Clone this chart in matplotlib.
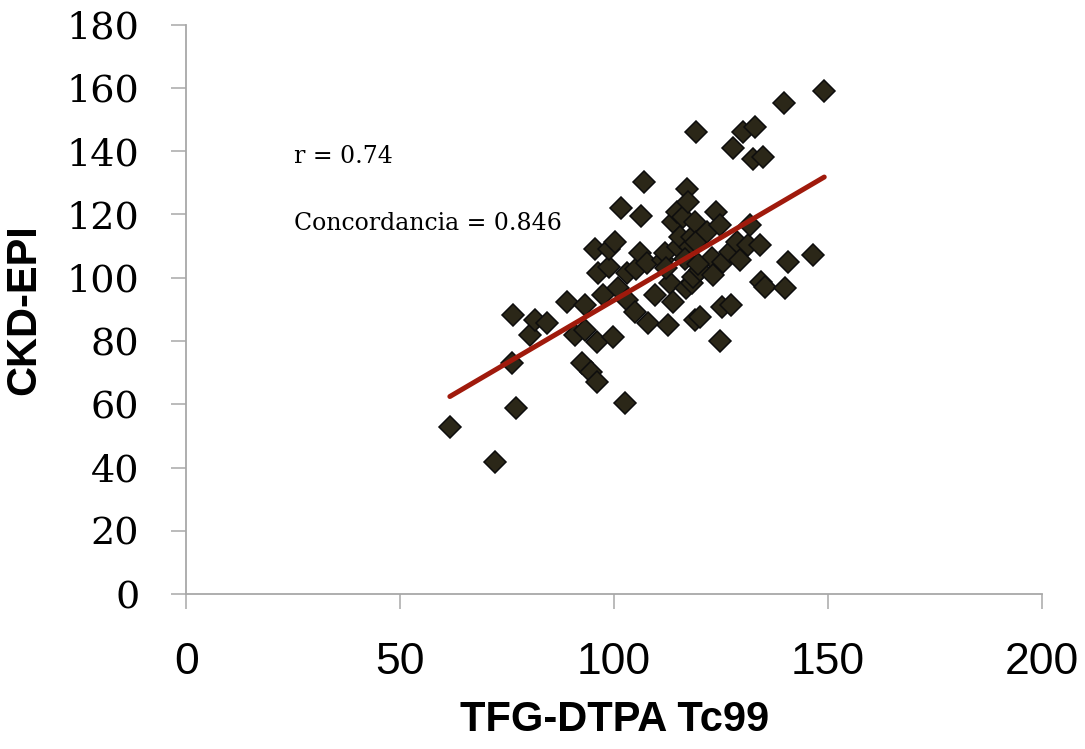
import matplotlib
matplotlib.use("Agg")
import matplotlib.pyplot as plt
import numpy as np

# Data
tfg_dtpa = [61.6, 72.1, 77.0, 76.2, 76.3, 80.3, 81.5, 84.2, 88.9, 90.8,
            92.4, 93.2, 93.2, 94.7, 95.9, 95.9, 95.5, 96.3, 97.4, 98.7,
            98.7, 99.8, 100.2, 100.9, 101.7, 102.5, 102.9, 102.9, 104.8, 105.2,
            106.0, 106.2, 107.0, 107.6, 108.0, 109.5, 111.4, 111.8, 112.6, 113.0,
            113.8, 113.8, 114.6, 115.0, 115.4, 116.1, 116.9, 117.1, 117.2, 117.7,
            118.1, 118.1, 118.5, 118.9, 118.9, 119.2, 119.2, 120.0, 120.0, 121.6,
            122.8, 123.1, 123.8, 124.7, 124.7, 125.1, 125.5, 127.0, 127.4, 127.8,
            128.6, 129.4, 130.1, 131.3, 131.7, 132.5, 132.9, 134.0, 134.4, 134.8,
            135.2, 139.7, 139.9, 140.7, 146.5, 149.1, 112.0, 116.5, 119.5]
ckd_epi = [52.9, 41.8, 58.7, 72.9, 88.2, 81.9, 86.6, 85.6, 92.4, 81.9,
           72.9, 91.4, 83.5, 70.3, 67.0, 79.8, 109.0, 101.4, 94.5, 103.5,
           109.0, 81.3, 111.4, 96.6, 121.9, 60.3, 92.9, 101.4, 89.3, 102.7,
           107.7, 119.6, 130.3, 104.6, 85.6, 94.5, 105.6, 107.7, 85.0, 98.2,
           92.4, 117.7, 120.9, 109.8, 113.0, 119.3, 96.6, 128.0, 124.0, 109.8,
           98.2, 113.0, 100.3, 117.7, 86.6, 146.0, 111.4, 87.7, 102.4, 114.5,
           106.1, 100.9, 120.9, 116.7, 80.1, 90.8, 105.1, 108.2, 91.4, 140.9,
           111.4, 105.6, 146.2, 110.3, 116.7, 137.7, 147.7, 110.3, 98.7, 138.1,
           97.2, 155.1, 96.6, 105.1, 107.2, 159.0, 103.0, 106.0, 104.5]

trend_slope = 0.793
trend_intercept = 13.6

x_ticks = [0, 50, 100, 150, 200]
y_ticks = [0, 20, 40, 60, 80, 100, 120, 140, 160, 180]
x_label = "TFG-DTPA Tc99"
y_label = "CKD-EPI"
annot_r = "r = 0.74"
annot_c = "Concordancia = 0.846"

serif = ['DejaVu Serif']
narrow = ['Liberation Sans Narrow', 'Liberation Sans', 'DejaVu Sans']

fig = plt.figure(figsize=(10.85, 7.49), dpi=100)
ax = fig.add_axes([0.1717, 0.2069, 0.9604 - 0.1717, 0.967 - 0.2069])

ax.plot(tfg_dtpa, ckd_epi, linestyle='none', marker='D', markersize=11.3,
        markerfacecolor='#2b2718', markeredgecolor='#0d0d0d', markeredgewidth=1.1,
        zorder=2)

xs = np.array([min(tfg_dtpa), max(tfg_dtpa)])
ax.plot(xs, trend_slope * xs + trend_intercept, color='#a01a0c', lw=3.6,
        solid_capstyle='round', zorder=3)

ax.set_xlim(0, 200)
ax.set_ylim(0, 180)
ax.set_xticks(x_ticks)
ax.set_yticks(y_ticks)

for s in ['top', 'right']:
    ax.spines[s].set_visible(False)
for s in ['left', 'bottom']:
    ax.spines[s].set_color('#a8a8a8')
    ax.spines[s].set_linewidth(1.3)
ax.tick_params(axis='both', direction='out', length=10.8, width=1.1, color='#a8a8a8')
ax.tick_params(axis='y', pad=23)
ax.tick_params(axis='x', pad=24)

for lab in ax.get_yticklabels():
    lab.set_fontfamily(serif)
    lab.set_fontsize(27.5)
for lab in ax.get_xticklabels():
    lab.set_fontfamily(narrow)
    lab.set_fontsize(32)

ax.set_xlabel(x_label, fontfamily=narrow, fontweight='bold', fontsize=30, labelpad=12)
ax.set_ylabel(y_label, fontfamily=narrow, fontweight='bold', fontsize=30, labelpad=16)

ax.text(25.2, 138.2, annot_r, fontfamily=serif, fontsize=17, va='center', ha='left')
ax.text(25.2, 117.0, annot_c, fontfamily=serif, fontsize=17, va='center', ha='left')

fig.savefig('out.png', dpi=100)
